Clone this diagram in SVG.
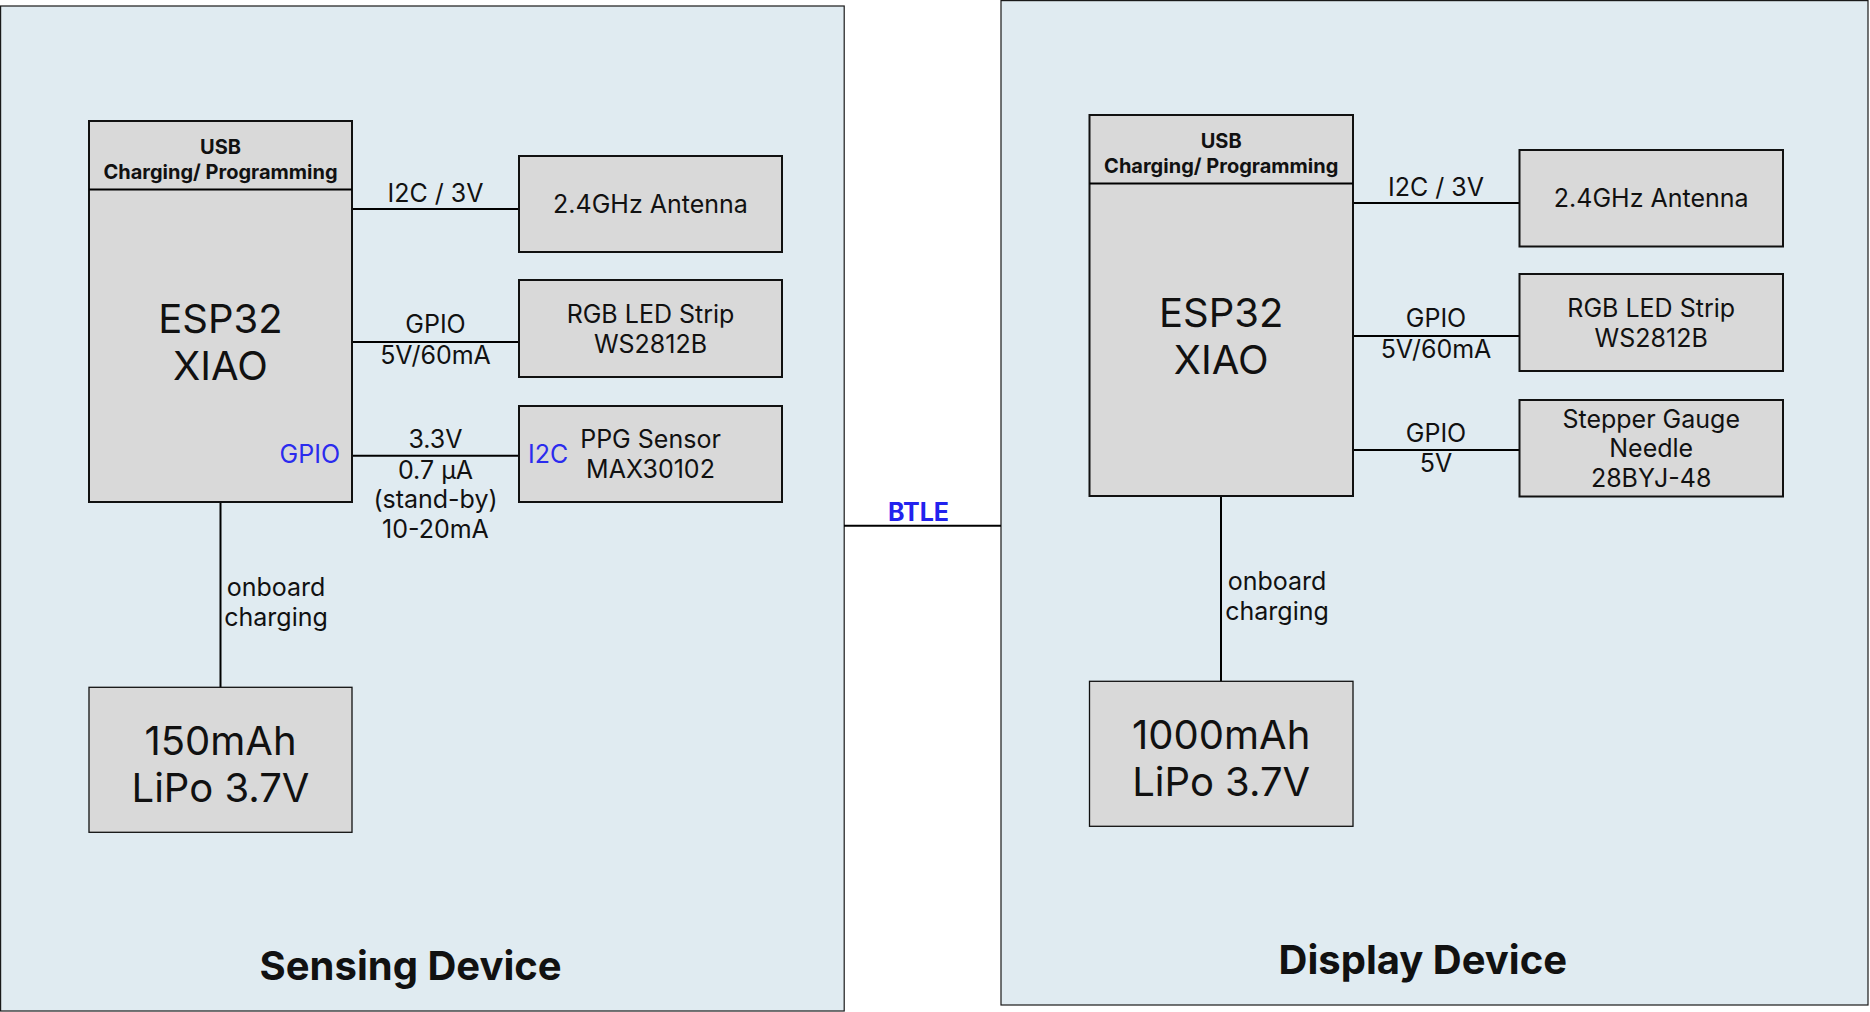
<svg xmlns="http://www.w3.org/2000/svg" width="1870" height="1012" viewBox="0 0 1870 1012">
<style>
  .cont { fill: #E0EBF1; stroke: #1a1a1a; stroke-width: 1.2; }
  .box { fill: #D9D9D9; stroke: #111; stroke-width: 2; }
  .bat { fill: #D9D9D9; stroke: #111; stroke-width: 1.3; }
  .wire { stroke: #000; stroke-width: 2; fill: none; }
  text { font-family: Inter, "Noto Sans", "Liberation Sans", sans-serif; fill: #111; }
  .t24 { font-size: 25px; text-anchor: middle; }
  .t40 { font-size: 40px; text-anchor: middle; }
  .usb { font-size: 20px; font-weight: bold; text-anchor: middle; }
  .title { font-size: 40px; font-weight: bold; text-anchor: middle; }
  .blue { fill: #2B2BEE; }
  .btle { font-size: 25px; font-weight: bold; text-anchor: middle; fill: #2222EE; }
</style>
<rect width="1870" height="1012" fill="#FFFFFF"/>

<g id="sensing-device">
  <rect class="cont" x="0.6" y="6" width="843.6" height="1005"/>
  <text class="title" x="410.6" y="979.5">Sensing Device</text>
</g>
<g id="display-device">
  <rect class="cont" x="1001" y="0.6" width="867" height="1004.4"/>
  <text class="title" x="1422.8" y="974">Display Device</text>
</g>

<g id="connectors">
  <line class="wire" x1="352" y1="209" x2="519" y2="209"/>
  <line class="wire" x1="352" y1="342" x2="519" y2="342"/>
  <line class="wire" x1="352" y1="455.7" x2="519" y2="455.7"/>
  <line class="wire" x1="220.5" y1="502" x2="220.5" y2="687"/>
  <line class="wire" x1="1353" y1="203" x2="1519.5" y2="203"/>
  <line class="wire" x1="1353" y1="336" x2="1519.5" y2="336"/>
  <line class="wire" x1="1353" y1="450" x2="1519.5" y2="450"/>
  <line class="wire" x1="1221" y1="496" x2="1221" y2="681"/>
  <line class="wire" x1="844" y1="525.7" x2="1001" y2="525.7"/>
  <text class="t24" x="435.5" y="201.7">I2C / 3V</text>
  <text class="t24" x="435.5" y="333">GPIO</text>
  <text class="t24" x="435.5" y="364">5V/60mA</text>
  <text class="t24" x="435.5" y="448.3">3.3V</text>
  <text class="t24" x="435.5" y="478.7">0.7 µA</text>
  <text class="t24" x="435.5" y="508.3">(stand-by)</text>
  <text class="t24" x="435.5" y="538.3">10-20mA</text>
  <text class="t24" x="276" y="596">onboard</text>
  <text class="t24" x="276" y="626">charging</text>
  <text class="t24" x="1436" y="195.7">I2C / 3V</text>
  <text class="t24" x="1436" y="327">GPIO</text>
  <text class="t24" x="1436" y="358">5V/60mA</text>
  <text class="t24" x="1436" y="442">GPIO</text>
  <text class="t24" x="1436" y="472">5V</text>
  <text class="t24" x="1277" y="590">onboard</text>
  <text class="t24" x="1277" y="620">charging</text>
  <text class="btle" x="918.5" y="521">BTLE</text>
</g>

<g id="s-esp32">
  <rect class="box" x="89" y="121" width="263" height="381"/>
  <line class="wire" x1="89" y1="189.5" x2="352" y2="189.5"/>
  <text class="usb" x="220.5" y="154">USB</text>
  <text class="usb" x="220.5" y="179">Charging/ Programming</text>
  <text class="t40" x="220.5" y="333">ESP32</text>
  <text class="t40" x="220.5" y="380">XIAO</text>
  <text class="t24 blue" x="340" y="463.3" style="text-anchor:end">GPIO</text>
</g>
<g id="s-antenna">
  <rect class="box" x="519" y="156" width="263" height="96"/>
  <text class="t24" x="650.5" y="212.7">2.4GHz Antenna</text>
</g>
<g id="s-led">
  <rect class="box" x="519" y="280" width="263" height="97"/>
  <text class="t24" x="650.5" y="323">RGB LED Strip</text>
  <text class="t24" x="650.5" y="353">WS2812B</text>
</g>
<g id="s-ppg">
  <rect class="box" x="519" y="406" width="263" height="96"/>
  <text class="t24 blue" x="528" y="463.3" style="text-anchor:start">I2C</text>
  <text class="t24" x="650.5" y="448">PPG Sensor</text>
  <text class="t24" x="650.5" y="478">MAX30102</text>
</g>
<g id="s-battery">
  <rect class="bat" x="89" y="687.3" width="263" height="145"/>
  <text class="t40" x="220.5" y="754.7">150mAh</text>
  <text class="t40" x="220.5" y="802">LiPo 3.7V</text>
</g>

<g id="d-esp32">
  <rect class="box" x="1089.5" y="115" width="263.5" height="381"/>
  <line class="wire" x1="1089.5" y1="183.5" x2="1353" y2="183.5"/>
  <text class="usb" x="1221.2" y="148">USB</text>
  <text class="usb" x="1221.2" y="173">Charging/ Programming</text>
  <text class="t40" x="1221.2" y="327">ESP32</text>
  <text class="t40" x="1221.2" y="374">XIAO</text>
</g>
<g id="d-antenna">
  <rect class="box" x="1519.5" y="150" width="263.5" height="96.5"/>
  <text class="t24" x="1651.2" y="206.7">2.4GHz Antenna</text>
</g>
<g id="d-led">
  <rect class="box" x="1519.5" y="274" width="263.5" height="97"/>
  <text class="t24" x="1651.2" y="317">RGB LED Strip</text>
  <text class="t24" x="1651.2" y="347">WS2812B</text>
</g>
<g id="d-stepper">
  <rect class="box" x="1519.5" y="400" width="263.5" height="96.5"/>
  <text class="t24" x="1651.2" y="427.7">Stepper Gauge</text>
  <text class="t24" x="1651.2" y="457.3">Needle</text>
  <text class="t24" x="1651.2" y="487.3">28BYJ-48</text>
</g>
<g id="d-battery">
  <rect class="bat" x="1089.5" y="681.3" width="263.5" height="145"/>
  <text class="t40" x="1221.2" y="748.7">1000mAh</text>
  <text class="t40" x="1221.2" y="796">LiPo 3.7V</text>
</g>
</svg>
